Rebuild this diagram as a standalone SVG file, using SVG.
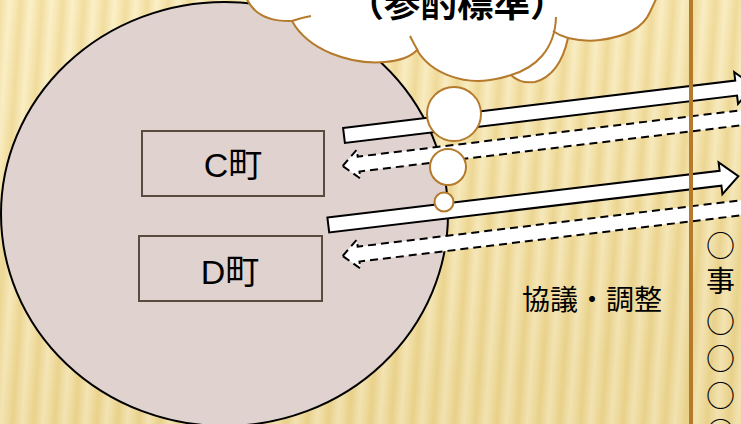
<svg xmlns="http://www.w3.org/2000/svg" width="741" height="424" viewBox="0 0 741 424">
<defs>
<linearGradient id="stripe" x1="0" y1="0" x2="1" y2="0">
<stop offset="0" stop-color="#efd995"/>
<stop offset="0.45" stop-color="#fbefc6"/>
<stop offset="0.7" stop-color="#f6e6b0"/>
<stop offset="1" stop-color="#efd995"/>
</linearGradient>
<pattern id="bgpat" patternUnits="userSpaceOnUse" width="21" height="424" patternTransform="rotate(4)">
<rect x="0" y="-10" width="21" height="444" fill="url(#stripe)"/>
</pattern>
<linearGradient id="shade" x1="0" y1="0" x2="0.3" y2="1">
<stop offset="0" stop-color="#fff6d8" stop-opacity="0.15"/>
<stop offset="1" stop-color="#c9a850" stop-opacity="0.18"/>
</linearGradient>
<style>
.town{fill:none;stroke:#5a4a40;stroke-width:2}
.lbl{font-family:"Liberation Sans","Noto Sans CJK JP",sans-serif;fill:#000}
.jp{font-family:"Noto Sans CJK JP",sans-serif;fill:#000}
.col{font-family:"Noto Sans CJK JP",sans-serif;fill:#000;font-size:29px}
.solid{fill:#fff;stroke:#000;stroke-width:2;stroke-linejoin:miter}
.dash{fill:#fff;stroke:#000;stroke-width:2;stroke-dasharray:8 5}
.cloud{fill:#fff;stroke:#b57a2c;stroke-width:2}
.cline{fill:none;stroke:#b57a2c;stroke-width:2}
</style>
</defs>
<rect x="0" y="0" width="741" height="424" fill="url(#bgpat)"/>
<rect x="0" y="0" width="741" height="424" fill="url(#shade)"/>

<g id="region">
<ellipse cx="224.5" cy="214" rx="223.5" ry="212" fill="#e0d2ce" stroke="#000" stroke-width="2"/>
</g>

<g id="town-c">
<rect class="town" x="142" y="131" width="182" height="65"/>
<text class="lbl" x="233" y="177" font-size="34" text-anchor="middle">C町</text>
</g>
<g id="town-d">
<rect class="town" x="139" y="236" width="183" height="65"/>
<text class="lbl" x="230" y="284" font-size="34" text-anchor="middle">D町</text>
</g>

<g id="connectors">
<path class="solid" transform="translate(344,135.5) rotate(-6.9)" d="M0,-7.5 L395,-7.5 L395,-16 L413,0 L395,16 L395,7.5 L0,7.5 Z"/>
<path class="dash" transform="translate(342.7,166) rotate(-6.9)" d="M0,0 L16,-14.5 L16,-7.5 L413,-7.5 L413,7.5 L16,7.5 L16,14.5 Z"/>
<path class="solid" transform="translate(328.3,225) rotate(-6.8)" d="M0,-7.5 L395,-7.5 L395,-16 L413,0 L395,16 L395,7.5 L0,7.5 Z"/>
<path class="dash" transform="translate(342.7,256) rotate(-6.9)" d="M0,0 L16,-14.5 L16,-7.5 L413,-7.5 L413,7.5 L16,7.5 L16,14.5 Z"/>
</g>

<g id="divider">
<line x1="691" y1="0" x2="691" y2="424" stroke="#b57a2a" stroke-width="4"/>
</g>

<g id="label-kyogi">
<text class="jp" x="522" y="310" font-size="28">協議・調整</text>
</g>

<g id="right-column">
<text class="col" x="706" y="257">○</text>
<text class="col" x="706" y="292">事</text>
<text class="col" x="706" y="333">○</text>
<text class="col" x="706" y="370">○</text>
<text class="col" x="706" y="407">○</text>
<text class="col" x="706" y="444">○</text>
</g>

<g id="cloud">
<path class="cloud" d="M246,-3 Q256,22 292,21 C308,50 350,65 385,62 Q408,60 417,50 C432,75 465,84 490,80 Q503,78 511,75 Q520,84 535,82 Q560,75 568,38 Q585,42 600,40 Q640,35 650,12 L657,-3 Z"/>
<path class="cline" d="M292,21 Q300,18 311,16"/>
<path class="cline" d="M410,36 Q414,44 418,51"/>
<path class="cline" d="M511,75 C535,68 555,50 556,17"/>
<path class="cline" d="M553,31 Q560,36 568,38"/>
<text x="457" y="17" font-family="Noto Sans CJK JP, sans-serif" font-weight="bold" font-size="36.5" text-anchor="middle" fill="#000">（参酌標準）</text>
</g>
<g id="bubbles">
<circle class="cloud" cx="454" cy="114" r="27"/>
<circle class="cloud" cx="448" cy="167" r="18"/>
<circle class="cloud" cx="444" cy="202" r="9.5"/>
</g>
</svg>
